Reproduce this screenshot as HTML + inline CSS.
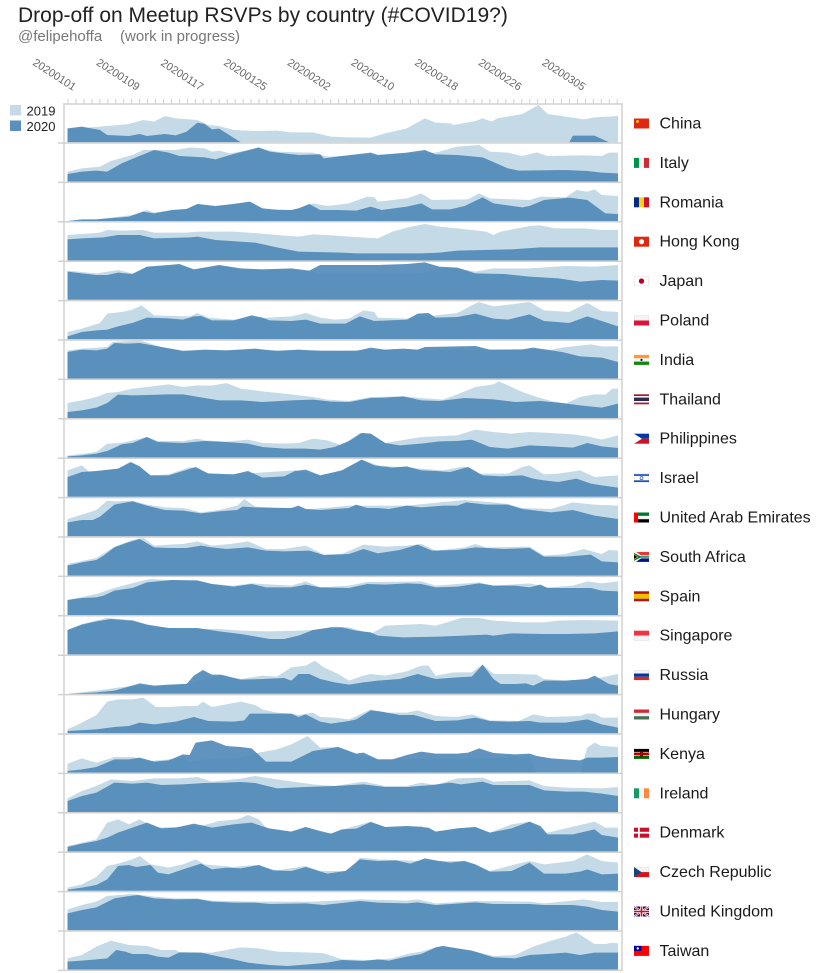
<!DOCTYPE html>
<html><head><meta charset="utf-8"><style>
html,body{margin:0;padding:0;background:#fff;}
svg{display:block;}
text{font-family:"Liberation Sans",Arial,sans-serif;}
</style></head><body>
<svg width="825" height="973" viewBox="0 0 825 973" xmlns="http://www.w3.org/2000/svg">
<rect width="825" height="973" fill="#fff"/>
<text x="18" y="22" font-size="21" fill="#222">Drop-off on Meetup RSVPs by country (#COVID19?)</text>
<text x="18" y="41" font-size="15" fill="#777">@felipehoffa</text>
<text x="120" y="41" font-size="15" fill="#777">(work in progress)</text>

<g font-size="11" fill="#666" text-anchor="end">
<text transform="translate(73,91) rotate(33)">20200101</text>
<text transform="translate(136.7,91) rotate(33)">20200109</text>
<text transform="translate(200.4,91) rotate(33)">20200117</text>
<text transform="translate(264.0,91) rotate(33)">20200125</text>
<text transform="translate(327.7,91) rotate(33)">20200202</text>
<text transform="translate(391.4,91) rotate(33)">20200210</text>
<text transform="translate(455.1,91) rotate(33)">20200218</text>
<text transform="translate(518.8,91) rotate(33)">20200226</text>
<text transform="translate(582.4,91) rotate(33)">20200305</text>
</g>

<!-- legend -->
<rect x="10" y="105" width="11" height="10.5" fill="#c5dae7"/>
<rect x="10" y="120.5" width="11" height="10.5" fill="#5b90bd"/>
<text x="26.5" y="115.5" font-size="13" fill="#222">2019</text>
<text x="26.5" y="131" font-size="13" fill="#222">2020</text>

<!-- ZOOM GROUP A: panels 0-4 -->
<g transform="translate(60.28,100) scale(0.36098,0.33333)">
<path fill="#c5dae7" d="M20,126.6 L20,88 L60,84 L110,80 L150,76 L190,72 L230,60 L260,65 L290,48 L320,55 L380,60 L410,75 L440,78 L480,90 L540,93 L600,92 L640,97 L700,97 L750,110 L800,112 L860,113 L900,100 L960,85 L1010,55 L1040,68 L1080,70 L1090,75 L1150,63 L1170,55 L1195,65 L1210,55 L1280,42 L1325,15 L1350,42 L1400,50 L1450,58 L1480,52 L1545,48 L1545,126.6 Z"/>
<path fill="#4a85b6" fill-opacity="0.88" d="M20,126.6 L20,85 L60,80 L110,90 L130,105 L190,108 L220,102 L240,108 L290,102 L320,106 L350,95 L380,68 L400,72 L420,88 L440,86 L500,126.6 L1410,126.6 L1420,107 L1480,107 L1520,126.6 Z"/>

<path fill="#c5dae7" d="M20,244.8 L20,215 L60,205 L110,200 L140,183 L200,165 L230,150 L270,150 L320,150 L360,142 L400,145 L420,155 L440,152 L470,160 L550,145 L600,155 L660,157 L700,158 L740,170 L1040,158 L1100,140 L1160,135 L1190,155 L1240,158 L1280,168 L1320,157 L1350,168 L1450,166 L1500,168 L1520,158 L1545,158 L1545,244.8 Z"/>
<path fill="#4a85b6" fill-opacity="0.88" d="M20,244.8 L20,222 L60,215 L100,212 L130,215 L170,190 L260,150 L300,158 L330,168 L400,172 L430,178 L470,165 L550,142 L580,155 L620,160 L660,165 L720,163 L730,175 L780,168 L860,158 L880,165 L960,158 L1010,150 L1040,163 L1100,165 L1170,172 L1240,205 L1270,212 L1400,210 L1460,213 L1500,218 L1545,220 L1545,244.8 Z"/>

<path fill="#c5dae7" d="M20,363 L100,358 L200,345 L240,330 L260,338 L310,330 L350,327 L380,312 L430,318 L480,312 L525,305 L560,325 L640,330 L660,325 L700,310 L740,318 L800,310 L850,290 L870,292 L880,305 L960,295 L1000,280 L1030,300 L1130,298 L1160,280 L1190,295 L1300,300 L1330,290 L1400,292 L1430,270 L1460,275 L1480,268 L1500,285 L1545,288 L1545,363 Z"/>
<path fill="#4a85b6" fill-opacity="0.88" d="M20,363 L60,358 L100,358 L190,350 L230,335 L260,340 L310,330 L350,327 L380,312 L430,318 L480,312 L525,305 L560,325 L600,330 L640,330 L660,325 L690,312 L720,330 L770,330 L820,332 L860,320 L890,330 L960,320 L1000,310 L1030,328 L1080,328 L1120,318 L1170,292 L1200,310 L1280,322 L1300,318 L1340,300 L1410,293 L1460,300 L1510,340 L1545,342 L1545,363 Z"/>

<path fill="#c5dae7" d="M20,481.2 L20,405 L60,402 L110,398 L130,390 L170,392 L230,390 L260,398 L350,398 L380,395 L420,395 L480,395 L550,400 L600,405 L660,410 L700,403 L740,405 L800,410 L880,415 L920,395 L960,383 L1010,372 L1050,380 L1100,385 L1180,395 L1200,405 L1220,395 L1300,378 L1330,376 L1370,385 L1450,385 L1500,390 L1545,390 L1545,481.2 Z"/>
<path fill="#4a85b6" fill-opacity="0.88" d="M20,481.2 L20,418 L60,415 L120,412 L160,405 L220,405 L260,415 L360,412 L380,410 L430,420 L540,428 L600,442 L660,455 L780,458 L820,460 L1000,460 L1050,458 L1100,452 L1250,448 L1330,442 L1545,442 L1545,481.2 Z"/>

<path fill="#c5dae7" d="M20,599.4 L20,512 L100,520 L160,510 L200,520 L240,502 L330,494 L370,508 L440,498 L500,508 L640,508 L690,514 L720,520 L1000,520 L1050,505 L1100,505 L1150,515 L1200,505 L1300,505 L1400,498 L1480,500 L1545,495 L1545,599.4 Z"/>
<path fill="#4a85b6" fill-opacity="0.88" d="M20,599.4 L20,515 L60,520 L100,525 L130,525 L160,518 L200,522 L240,500 L300,495 L330,492 L370,508 L440,495 L500,505 L560,508 L640,505 L690,512 L720,495 L800,495 L880,495 L960,492 L1010,487 L1050,500 L1100,503 L1150,520 L1230,522 L1300,530 L1380,535 L1440,545 L1500,540 L1545,542 L1545,599.4 Z"/>
</g>

<!-- ZOOM GROUP B: panels 5-9 -->
<g transform="translate(60.28,297) scale(0.36098,0.33333)">
<path fill="#c5dae7" d="M20,126.6 L20,105 L60,95 L110,78 L130,50 L170,45 L200,38 L225,25 L260,55 L360,58 L380,48 L410,62 L480,68 L640,58 L680,48 L720,62 L760,68 L800,65 L840,40 L870,45 L880,62 L960,65 L1100,48 L1140,25 L1160,15 L1200,28 L1250,22 L1300,15 L1340,40 L1410,45 L1460,18 L1500,42 L1545,45 L1545,126.6 Z"/>
<path fill="#4a85b6" fill-opacity="0.88" d="M20,126.6 L20,118 L60,105 L100,100 L130,98 L160,88 L200,78 L240,62 L300,64 L340,68 L370,58 L390,57 L420,70 L480,70 L530,55 L560,62 L580,70 L640,72 L680,68 L720,80 L790,80 L830,58 L870,72 L960,68 L990,50 L1020,48 L1040,62 L1100,60 L1150,50 L1200,65 L1240,68 L1300,52 L1340,72 L1410,78 L1460,58 L1500,72 L1545,88 L1545,126.6 Z"/>

<path fill="#c5dae7" d="M20,244.8 L20,160 L60,155 L130,150 L145,135 L220,130 L280,150 L340,160 L1360,158 L1390,152 L1420,148 L1470,142 L1500,148 L1545,148 L1545,244.8 Z"/>
<path fill="#4a85b6" fill-opacity="0.88" d="M20,244.8 L20,165 L60,158 L100,160 L130,155 L150,138 L180,140 L220,138 L280,150 L340,162 L400,158 L460,160 L540,155 L600,162 L660,158 L720,162 L820,162 L860,152 L900,158 L950,155 L990,158 L1010,150 L1100,148 L1150,147 L1190,158 L1280,157 L1310,152 L1360,160 L1390,165 L1440,178 L1500,182 L1545,195 L1545,244.8 Z"/>

<path fill="#c5dae7" d="M20,363 L20,318 L60,310 L100,300 L130,288 L160,285 L200,275 L240,270 L300,262 L340,270 L380,265 L420,266 L460,258 L500,275 L560,283 L620,290 L700,300 L740,308 L800,312 L860,300 L950,298 L1000,303 L1060,308 L1100,292 L1150,270 L1200,262 L1215,253 L1240,265 L1280,285 L1320,300 L1360,312 L1400,320 L1440,300 L1480,292 L1510,293 L1530,275 L1545,275 L1545,363 Z"/>
<path fill="#4a85b6" fill-opacity="0.88" d="M20,363 L20,345 L60,340 L100,332 L130,318 L160,293 L200,295 L240,294 L300,292 L340,292 L400,303 L440,310 L500,310 L560,315 L640,310 L700,308 L750,314 L800,315 L860,303 L900,302 L950,298 L1000,310 L1050,312 L1120,303 L1200,307 L1260,315 L1330,312 L1390,318 L1440,325 L1500,332 L1545,320 L1545,363 Z"/>

<path fill="#c5dae7" d="M20,481.2 L20,476 L100,465 L130,440 L170,438 L240,420 L270,432 L340,432 L380,425 L400,430 L460,434 L520,428 L560,438 L620,440 L660,438 L700,425 L740,430 L780,445 L830,408 L860,410 L900,438 L1000,420 L1100,415 L1150,398 L1200,405 L1250,410 L1300,405 L1360,408 L1420,412 L1460,418 L1500,428 L1545,415 L1545,481.2 Z"/>
<path fill="#4a85b6" fill-opacity="0.88" d="M20,481.2 L20,478 L60,475 L100,470 L130,462 L170,442 L200,438 L240,420 L270,435 L340,438 L400,432 L460,435 L520,440 L560,450 L620,455 L680,455 L720,458 L760,450 L800,432 L835,408 L860,410 L900,438 L940,445 L1000,440 L1050,433 L1100,432 L1140,428 L1190,450 L1240,455 L1300,445 L1360,448 L1420,452 L1460,438 L1500,448 L1545,453 L1545,481.2 Z"/>

<path fill="#c5dae7" d="M20,599.4 L20,520 L60,505 L80,525 L160,515 L200,498 L250,535 L300,532 L360,510 L410,528 L480,532 L650,520 L720,535 L780,520 L835,488 L880,505 L960,512 L1060,520 L1120,508 L1160,530 L1240,530 L1280,510 L1300,505 L1340,532 L1380,530 L1440,520 L1480,540 L1545,535 L1545,599.4 Z"/>
<path fill="#4a85b6" fill-opacity="0.88" d="M20,599.4 L20,540 L60,525 L100,522 L160,515 L195,495 L220,508 L250,535 L300,535 L340,522 L375,510 L410,530 L480,532 L520,522 L560,542 L620,538 L650,522 L680,518 L720,535 L780,520 L835,488 L870,505 L920,512 L960,508 L1000,520 L1040,522 L1080,525 L1130,510 L1170,535 L1220,538 L1280,535 L1310,545 L1340,550 L1380,555 L1430,545 L1470,560 L1500,565 L1545,572 L1545,599.4 Z"/>
</g>

<!-- ZOOM GROUP C: panels 10-14 -->
<g transform="translate(60.28,494) scale(0.36098,0.33333)">
<path fill="#c5dae7" d="M20,126.6 L20,75 L60,62 L100,48 L130,20 L150,22 L200,20 L240,32 L290,40 L340,42 L390,55 L440,48 L490,35 L510,15 L540,38 L700,45 L800,35 L960,35 L1120,18 L1200,25 L1240,30 L1280,42 L1360,45 L1420,25 L1480,32 L1545,35 L1545,126.6 Z"/>
<path fill="#4a85b6" fill-opacity="0.88" d="M20,126.6 L20,85 L60,78 L90,78 L110,68 L150,32 L200,22 L240,35 L290,48 L340,50 L390,58 L440,52 L490,48 L505,38 L540,40 L600,42 L640,42 L660,35 L680,45 L720,48 L800,42 L820,32 L850,42 L880,42 L910,45 L960,35 L1000,40 L1060,35 L1100,35 L1125,25 L1180,32 L1240,32 L1280,45 L1360,55 L1420,48 L1480,65 L1545,75 L1545,126.6 Z"/>

<path fill="#c5dae7" d="M20,244.8 L20,210 L100,192 L150,158 L200,138 L230,132 L260,155 L300,152 L340,150 L380,142 L420,155 L470,150 L520,142 L570,165 L620,165 L680,155 L730,182 L780,180 L840,152 L900,158 L960,155 L1000,150 L1040,170 L1120,160 L1150,150 L1180,160 L1300,158 L1340,185 L1400,180 L1450,165 L1500,180 L1520,168 L1545,170 L1545,244.8 Z"/>
<path fill="#4a85b6" fill-opacity="0.88" d="M20,244.8 L20,215 L60,205 L100,198 L120,185 L150,160 L180,148 L220,135 L260,160 L300,162 L350,162 L390,155 L420,160 L460,165 L520,160 L570,170 L620,172 L690,170 L730,183 L800,180 L840,165 L880,178 L940,168 L990,152 L1030,170 L1100,168 L1150,160 L1180,162 L1230,165 L1300,162 L1340,188 L1400,188 L1470,182 L1500,202 L1545,205 L1545,244.8 Z"/>

<path fill="#c5dae7" d="M20,363 L20,318 L100,300 L150,282 L220,262 L250,255 L300,258 L380,258 L420,270 L480,275 L530,268 L640,275 L680,262 L720,280 L800,275 L850,264 L1000,262 L1040,275 L1160,265 L1200,275 L1300,268 L1350,280 L1420,275 L1460,262 L1500,268 L1545,262 L1545,363 Z"/>
<path fill="#4a85b6" fill-opacity="0.88" d="M20,363 L20,318 L60,312 L100,310 L120,305 L150,290 L200,282 L240,265 L310,258 L380,260 L420,270 L480,278 L530,270 L570,280 L640,280 L680,272 L720,280 L800,282 L850,270 L900,272 L960,268 L1000,270 L1040,280 L1100,278 L1160,268 L1200,275 L1260,275 L1300,280 L1330,272 L1350,282 L1420,282 L1470,282 L1500,290 L1545,292 L1545,363 Z"/>

<path fill="#c5dae7" d="M20,481.2 L20,408 L60,390 L130,372 L200,378 L260,398 L340,405 L440,405 L500,410 L580,412 L660,410 L700,408 L760,398 L800,400 L860,420 L900,395 L1000,390 L1040,395 L1080,382 L1110,372 L1160,372 L1200,380 L1280,385 L1340,385 L1380,380 L1450,378 L1545,380 L1545,481.2 Z"/>
<path fill="#4a85b6" fill-opacity="0.88" d="M20,481.2 L20,408 L60,392 L100,382 L140,375 L200,380 L240,392 L300,402 L380,402 L440,412 L500,420 L580,435 L620,435 L660,425 L700,408 L750,400 L780,400 L820,410 L860,415 L880,425 L950,430 L1050,428 L1180,422 L1200,425 L1250,418 L1340,420 L1400,420 L1480,418 L1545,412 L1545,481.2 Z"/>

<path fill="#c5dae7" d="M20,599.4 L100,590 L200,575 L260,578 L350,568 L440,545 L500,555 L560,545 L600,548 L640,520 L680,515 L705,500 L730,520 L770,540 L800,560 L840,545 L860,540 L900,545 L960,532 L1000,515 L1020,515 L1040,545 L1090,535 L1140,535 L1170,512 L1200,540 L1260,540 L1320,542 L1340,555 L1400,560 L1480,555 L1510,548 L1545,540 L1545,599.4 Z"/>
<path fill="#4a85b6" fill-opacity="0.88" d="M20,599.4 L100,595 L150,590 L200,575 L220,568 L260,575 L300,572 L350,570 L370,545 L395,528 L420,542 L445,542 L500,557 L560,555 L620,552 L640,560 L660,540 L690,540 L720,555 L760,565 L800,572 L840,565 L880,560 L940,555 L990,540 L1040,555 L1100,550 L1140,548 L1170,512 L1200,555 L1220,570 L1260,570 L1290,568 L1310,575 L1340,560 L1400,560 L1460,555 L1480,545 L1520,570 L1545,575 L1545,599.4 Z"/>
</g>

<!-- ZOOM GROUP D: panels 15-19 -->
<g transform="translate(60.28,691) scale(0.36098,0.33333)">
<path fill="#c5dae7" d="M20,126.6 L20,115 L60,95 L100,72 L130,32 L160,25 L200,25 L230,20 L265,48 L300,48 L340,45 L380,45 L395,32 L420,48 L500,32 L540,42 L560,55 L600,65 L640,68 L660,72 L700,65 L720,78 L760,80 L800,85 L860,55 L900,65 L960,65 L990,58 L1040,75 L1100,78 L1140,70 L1190,88 L1270,90 L1310,70 L1350,78 L1440,75 L1460,68 L1480,68 L1500,80 L1545,80 L1545,126.6 Z"/>
<path fill="#4a85b6" fill-opacity="0.88" d="M20,126.6 L20,120 L100,115 L150,108 L190,105 L220,95 L260,100 L320,92 L370,78 L410,90 L480,92 L510,88 L525,68 L640,68 L660,78 L680,70 L720,92 L750,98 L800,90 L820,85 L860,58 L890,62 L940,72 L980,72 L1040,90 L1100,88 L1150,80 L1190,90 L1240,92 L1300,90 L1330,95 L1400,95 L1460,85 L1500,100 L1545,110 L1545,126.6 Z"/>

<path fill="#c5dae7" d="M20,244.8 L20,218 L60,202 L100,215 L130,205 L150,198 L200,198 L250,210 L300,205 L340,200 L360,212 L400,205 L500,200 L550,185 L600,175 L640,160 L685,135 L720,170 L770,168 L820,190 L880,205 L1300,200 L1320,244.8 L1440,244.8 L1460,170 L1480,155 L1500,165 L1545,168 L1545,244.8 Z"/>
<path fill="#4a85b6" fill-opacity="0.88" d="M20,244.8 L20,240 L60,235 L100,228 L150,205 L190,205 L220,200 L260,212 L300,208 L340,190 L358,192 L375,155 L420,148 L460,165 L500,168 L530,172 L570,212 L640,212 L700,180 L770,168 L820,188 L840,185 L880,205 L920,205 L960,192 L1000,182 L1040,188 L1100,188 L1130,185 L1160,172 L1200,186 L1260,190 L1300,188 L1320,195 L1360,202 L1440,208 L1460,200 L1500,200 L1545,198 L1545,244.8 Z"/>

<path fill="#c5dae7" d="M20,363 L20,322 L60,300 L100,285 L140,265 L200,270 L260,262 L330,262 L380,258 L420,272 L500,263 L540,255 L600,265 L700,280 L760,285 L840,272 L900,285 L960,285 L1000,275 L1040,282 L1100,262 L1170,260 L1200,272 L1300,268 L1340,285 L1400,290 L1500,292 L1545,288 L1545,363 Z"/>
<path fill="#4a85b6" fill-opacity="0.88" d="M20,363 L20,330 L60,315 L100,305 L150,275 L200,278 L240,275 L280,282 L340,280 L400,276 L460,275 L500,273 L540,276 L600,292 L680,288 L760,285 L840,280 L900,288 L960,288 L1030,282 L1080,275 L1110,280 L1170,272 L1200,282 L1300,282 L1340,298 L1400,302 L1450,302 L1500,308 L1545,315 L1545,363 Z"/>

<path fill="#c5dae7" d="M20,481.2 L20,465 L100,445 L130,395 L160,385 L190,400 L220,385 L260,410 L320,408 L400,402 L440,390 L490,385 L520,372 L550,385 L570,410 L640,422 L680,408 L720,425 L750,428 L800,410 L860,392 L900,408 L1000,405 L1040,422 L1100,412 L1150,408 L1190,425 L1250,400 L1300,392 L1340,428 L1400,412 L1480,392 L1510,410 L1545,410 L1545,481.2 Z"/>
<path fill="#4a85b6" fill-opacity="0.88" d="M20,481.2 L20,468 L60,458 L100,450 L130,440 L160,425 L200,410 L240,395 L280,412 L320,410 L370,398 L420,410 L480,400 L530,395 L580,413 L640,422 L680,408 L720,420 L750,428 L780,415 L820,413 L860,393 L900,408 L960,405 L1020,410 L1040,422 L1100,412 L1150,408 L1190,425 L1250,412 L1300,392 L1330,405 L1350,430 L1420,430 L1480,415 L1500,432 L1545,440 L1545,481.2 Z"/>

<path fill="#c5dae7" d="M20,599.4 L20,590 L60,580 L100,558 L130,525 L160,518 L200,505 L220,495 L250,520 L300,530 L340,520 L375,505 L400,520 L480,528 L540,522 L600,538 L680,525 L720,540 L800,540 L830,500 L880,505 L1000,510 L1080,510 L1120,510 L1190,540 L1260,520 L1300,510 L1340,520 L1420,510 L1460,490 L1500,510 L1545,515 L1545,599.4 Z"/>
<path fill="#4a85b6" fill-opacity="0.88" d="M20,599.4 L20,596 L60,590 L100,582 L130,565 L160,525 L190,522 L210,528 L250,522 L270,545 L300,550 L340,535 L390,518 L420,535 L460,530 L500,532 L550,522 L590,538 L640,540 L680,528 L740,548 L790,540 L830,505 L880,510 L930,508 L970,518 L1010,502 L1050,510 L1080,515 L1120,510 L1150,520 L1190,542 L1250,540 L1300,515 L1340,548 L1400,548 L1440,542 L1460,535 L1500,550 L1545,548 L1545,599.4 Z"/>
</g>

<!-- ZOOM GROUP E: panels 20-21 -->
<g transform="translate(60.28,880) scale(0.36098,0.33333)">
<path fill="#c5dae7" d="M20,150.6 L20,88 L60,75 L100,65 L130,48 L200,42 L260,50 L320,55 L380,55 L420,62 L540,65 L700,65 L830,58 L960,62 L990,58 L1040,70 L1150,63 L1300,65 L1340,70 L1420,62 L1450,58 L1500,66 L1545,66 L1545,150.6 Z"/>
<path fill="#4a85b6" fill-opacity="0.88" d="M20,150.6 L20,100 L60,90 L100,82 L150,55 L180,50 L215,45 L260,55 L320,58 L380,57 L420,65 L480,68 L540,68 L580,72 L680,70 L730,75 L830,63 L880,68 L960,70 L990,67 L1040,75 L1150,67 L1200,72 L1300,72 L1340,75 L1420,75 L1460,80 L1500,90 L1545,95 L1545,150.6 Z"/>

<path fill="#c5dae7" d="M20,268.8 L20,235 L60,225 L100,200 L140,182 L190,195 L240,198 L280,210 L320,210 L330,217 L420,218 L500,202 L550,205 L600,215 L700,218 L730,220 L780,238 L860,240 L920,235 L960,222 L1000,215 L1040,202 L1060,198 L1100,205 L1140,212 L1200,228 L1260,225 L1310,200 L1360,182 L1400,170 L1430,157 L1460,178 L1480,192 L1510,192 L1530,188 L1545,190 L1545,268.8 Z"/>
<path fill="#4a85b6" fill-opacity="0.88" d="M20,268.8 L20,245 L60,242 L100,238 L130,235 L155,210 L180,215 L200,222 L240,222 L270,230 L300,233 L330,217 L390,218 L440,230 L480,238 L520,248 L580,255 L630,258 L700,252 L740,248 L780,240 L840,243 L880,238 L910,242 L960,230 L1000,222 L1040,202 L1060,198 L1100,205 L1140,212 L1200,232 L1260,235 L1300,225 L1350,222 L1400,218 L1440,225 L1480,218 L1545,218 L1545,268.8 Z"/>
</g>

<!-- frame lines -->
<g stroke="#d2d2d2" stroke-width="1.5" fill="none">
<line x1="64" y1="104" x2="622" y2="104"/>
<line x1="64" y1="103" x2="64" y2="971"/>
<line x1="622" y1="103" x2="622" y2="971"/>
<path d="M58,143H622 M58,182.4H622 M58,221.8H622 M58,261.2H622 M58,300.6H622 M58,340H622 M58,379.4H622 M58,418.8H622 M58,458.2H622 M58,497.6H622 M58,537H622 M58,576.4H622 M58,615.8H622 M58,655.2H622 M58,694.6H622 M58,734H622 M58,773.4H622 M58,812.8H622 M58,852.2H622 M58,891.6H622 M58,931H622 M58,970.4H622"/>
</g>
<!-- ticks -->
<g stroke="#cfcfcf" stroke-width="1">
<path d="M68,99V104 M75.96,99V104 M83.92,99V104 M91.88,99V104 M99.84,99V104 M107.8,99V104 M115.76,99V104 M123.72,99V104 M131.68,99V104 M139.64,99V104 M147.6,99V104 M155.56,99V104 M163.52,99V104 M171.48,99V104 M179.44,99V104 M187.4,99V104 M195.36,99V104 M203.32,99V104 M211.28,99V104 M219.24,99V104 M227.2,99V104 M235.16,99V104 M243.12,99V104 M251.08,99V104 M259.04,99V104 M267,99V104 M274.96,99V104 M282.92,99V104 M290.88,99V104 M298.84,99V104 M306.8,99V104 M314.76,99V104 M322.72,99V104 M330.68,99V104 M338.64,99V104 M346.6,99V104 M354.56,99V104 M362.52,99V104 M370.48,99V104 M378.44,99V104 M386.4,99V104 M394.36,99V104 M402.32,99V104 M410.28,99V104 M418.24,99V104 M426.2,99V104 M434.16,99V104 M442.12,99V104 M450.08,99V104 M458.04,99V104 M466,99V104 M473.96,99V104 M481.92,99V104 M489.88,99V104 M497.84,99V104 M505.8,99V104 M513.76,99V104 M521.72,99V104 M529.68,99V104 M537.64,99V104 M545.6,99V104 M553.56,99V104 M561.52,99V104 M569.48,99V104 M577.44,99V104 M585.4,99V104 M593.36,99V104 M601.32,99V104 M609.28,99V104 M617.24,99V104"/>
</g>

<!-- flags -->
<g transform="translate(634,118.5)"><rect width="15" height="10" fill="#de2910"/><circle cx="3.5" cy="3" r="1.4" fill="#ffde00"/></g>
<g transform="translate(634,157.9)"><rect width="5" height="10" fill="#009246"/><rect x="5" width="5" height="10" fill="#f4f4f4"/><rect x="10" width="5" height="10" fill="#ce2b37"/></g>
<g transform="translate(634,197.3)"><rect width="5" height="10" fill="#002b7f"/><rect x="5" width="5" height="10" fill="#fcd116"/><rect x="10" width="5" height="10" fill="#ce1126"/></g>
<g transform="translate(634,236.7)"><rect width="15" height="10" fill="#de2910"/><circle cx="7.5" cy="5" r="2.6" fill="#fff"/></g>
<g transform="translate(634,276.1)"><rect x="0.25" y="0.25" width="14.5" height="9.5" fill="#fff" stroke="#ddd" stroke-width="0.5"/><circle cx="7.5" cy="5" r="2.7" fill="#bc002d"/></g>
<g transform="translate(634,315.5)"><rect x="0.25" y="0.25" width="14.5" height="5" fill="#f4f4f4" stroke="#ddd" stroke-width="0.5"/><rect y="5" width="15" height="5" fill="#dc143c"/></g>
<g transform="translate(634,354.9)"><rect width="15" height="3.4" fill="#ff9933"/><rect y="3.4" width="15" height="3.3" fill="#f4f4f4"/><rect y="6.7" width="15" height="3.3" fill="#138808"/><circle cx="7.5" cy="5" r="1.1" fill="#000080"/></g>
<g transform="translate(634,394.3)"><rect width="15" height="10" fill="#a51931"/><rect y="1.7" width="15" height="6.6" fill="#f4f5f8"/><rect y="3.3" width="15" height="3.4" fill="#2d2a4a"/></g>
<g transform="translate(634,433.7)"><rect width="15" height="5" fill="#0038a8"/><rect y="5" width="15" height="5" fill="#ce1126"/><polygon points="0,0 8,5 0,10" fill="#fff"/></g>
<g transform="translate(634,473.1)"><rect x="0.25" y="0.25" width="14.5" height="9.5" fill="#fff" stroke="#ddd" stroke-width="0.5"/><rect y="1.2" width="15" height="1.5" fill="#0038b8"/><rect y="7.3" width="15" height="1.5" fill="#0038b8"/><circle cx="7.5" cy="5" r="1.5" fill="none" stroke="#0038b8" stroke-width="0.6"/></g>
<g transform="translate(634,512.5)"><rect width="15" height="3.4" fill="#00732f"/><rect y="3.4" width="15" height="3.3" fill="#f4f4f4"/><rect y="6.7" width="15" height="3.3" fill="#000"/><rect width="4" height="10" fill="#ff0000"/></g>
<g transform="translate(634,551.9)"><rect width="15" height="5" fill="#e03c31"/><rect y="5" width="15" height="5" fill="#001489"/><polygon points="0,0 2,0 7,3.5 15,3.5 15,6.5 7,6.5 2,10 0,10" fill="#fff"/><polygon points="0,1 6.5,4.3 15,4.3 15,5.7 6.5,5.7 0,9" fill="#007749"/><polygon points="0,2.2 4.5,5 0,7.8" fill="#ffb81c"/><polygon points="0,3 3.3,5 0,7" fill="#000"/></g>
<g transform="translate(634,591.3)"><rect width="15" height="10" fill="#aa151b"/><rect y="2.5" width="15" height="5" fill="#f1bf00"/></g>
<g transform="translate(634,630.7)"><rect width="15" height="5" fill="#ef3340"/><rect x="0.25" y="5" width="14.5" height="4.75" fill="#f4f4f4" stroke="#ddd" stroke-width="0.5"/></g>
<g transform="translate(634,670.1)"><rect x="0.25" y="0.25" width="14.5" height="3.4" fill="#f4f4f4" stroke="#ddd" stroke-width="0.5"/><rect y="3.4" width="15" height="3.3" fill="#0039a6"/><rect y="6.7" width="15" height="3.3" fill="#d52b1e"/></g>
<g transform="translate(634,709.5)"><rect width="15" height="3.4" fill="#ce2939"/><rect y="3.4" width="15" height="3.3" fill="#f4f4f4"/><rect y="6.7" width="15" height="3.3" fill="#477050"/></g>
<g transform="translate(634,748.9)"><rect width="15" height="10" fill="#fff"/><rect width="15" height="3" fill="#000"/><rect y="3.6" width="15" height="2.8" fill="#bb0000"/><rect y="7" width="15" height="3" fill="#006600"/><ellipse cx="7.5" cy="5" rx="1.5" ry="3" fill="#bb0000" stroke="#000" stroke-width="0.4"/></g>
<g transform="translate(634,788.3)"><rect width="5" height="10" fill="#169b62"/><rect x="5" width="5" height="10" fill="#f4f4f4"/><rect x="10" width="5" height="10" fill="#ff883e"/></g>
<g transform="translate(634,827.7)"><rect width="15" height="10" fill="#c8102e"/><rect x="4" width="1.8" height="10" fill="#fff"/><rect y="4.1" width="15" height="1.8" fill="#fff"/></g>
<g transform="translate(634,867.1)"><rect x="0.25" y="0.25" width="14.5" height="5" fill="#f4f4f4" stroke="#ddd" stroke-width="0.5"/><rect y="5" width="15" height="5" fill="#d7141a"/><polygon points="0,0 7.5,5 0,10" fill="#11457e"/></g>
<g transform="translate(634,906.5)"><rect width="15" height="10" fill="#012169"/><path d="M0,0L15,10M15,0L0,10" stroke="#fff" stroke-width="2"/><path d="M0,0L15,10M15,0L0,10" stroke="#c8102e" stroke-width="0.7"/><rect x="6" width="3" height="10" fill="#fff"/><rect y="3.5" width="15" height="3" fill="#fff"/><rect x="6.7" width="1.6" height="10" fill="#c8102e"/><rect y="4.2" width="15" height="1.6" fill="#c8102e"/></g>
<g transform="translate(634,945.9)"><rect width="15" height="10" fill="#fe0000"/><rect width="7.5" height="5" fill="#000095"/><circle cx="3.75" cy="2.5" r="1.2" fill="#fff"/></g>

<!-- country labels -->
<g font-size="16" fill="#1a1a1a">
<text x="659.5" y="128.5">China</text>
<text x="659.5" y="167.9">Italy</text>
<text x="659.5" y="207.3">Romania</text>
<text x="659.5" y="246.7">Hong Kong</text>
<text x="659.5" y="286.1">Japan</text>
<text x="659.5" y="325.5">Poland</text>
<text x="659.5" y="364.9">India</text>
<text x="659.5" y="404.3">Thailand</text>
<text x="659.5" y="443.7">Philippines</text>
<text x="659.5" y="483.1">Israel</text>
<text x="659.5" y="522.5">United Arab Emirates</text>
<text x="659.5" y="561.9">South Africa</text>
<text x="659.5" y="601.3">Spain</text>
<text x="659.5" y="640.7">Singapore</text>
<text x="659.5" y="680.1">Russia</text>
<text x="659.5" y="719.5">Hungary</text>
<text x="659.5" y="758.9">Kenya</text>
<text x="659.5" y="798.3">Ireland</text>
<text x="659.5" y="837.7">Denmark</text>
<text x="659.5" y="877.1">Czech Republic</text>
<text x="659.5" y="916.5">United Kingdom</text>
<text x="659.5" y="955.9">Taiwan</text>
</g>
</svg>
</body></html>
